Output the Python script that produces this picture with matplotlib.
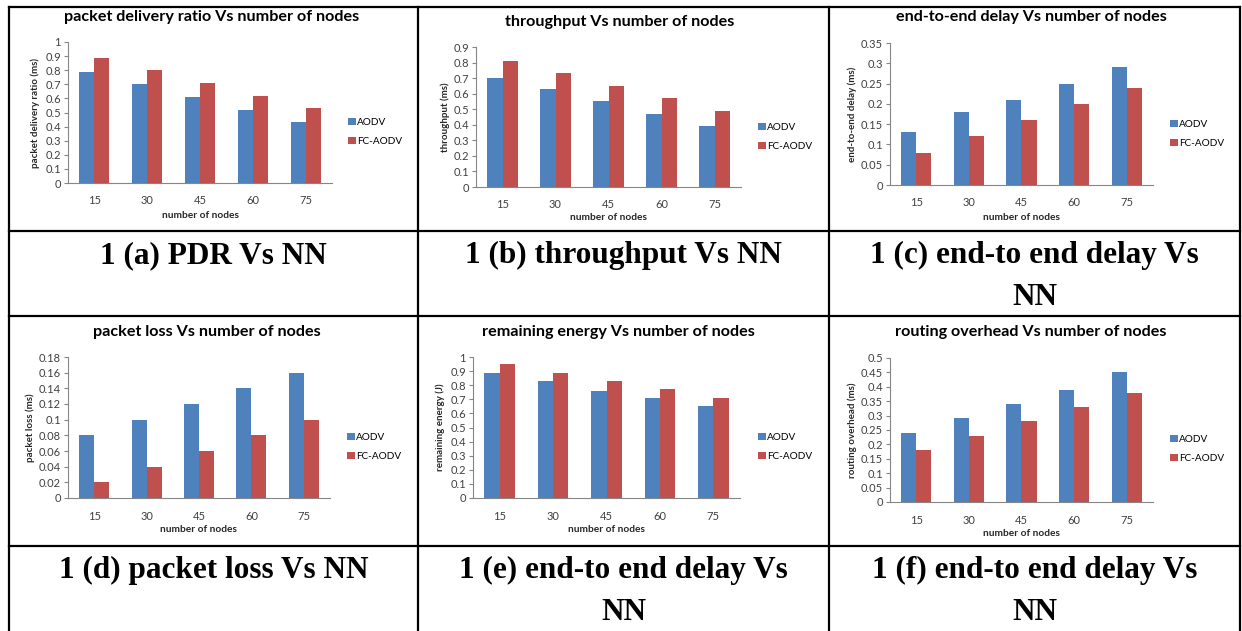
import numpy as np
import matplotlib
matplotlib.use("Agg")
import matplotlib.pyplot as plt
from matplotlib.lines import Line2D

W, H = 1242, 631

categories = ["15", "30", "45", "60", "75"]
series = ["AODV", "FC-AODV"]

titles = [
    "packet delivery ratio Vs number of nodes",
    "throughput Vs number of nodes",
    "end-to-end delay Vs number of nodes",
    "packet loss Vs number of nodes",
    "remaining energy Vs number of nodes",
    "routing overhead Vs number of nodes",
]
ylabels = [
    "packet delivery ratio (ms)",
    "throughput (ms)",
    "end-to-end delay (ms)",
    "packet loss (ms)",
    "remaining energy (J)",
    "routing overhead (ms)",
]
captions = [
    "1 (a) PDR Vs NN",
    "1 (b) throughput Vs NN",
    "1 (c) end-to end delay Vs\nNN",
    "1 (d) packet loss Vs NN",
    "1 (e) end-to end delay Vs\nNN",
    "1 (f) end-to end delay Vs\nNN",
]

aodv = [
    [0.79, 0.70, 0.61, 0.52, 0.43],
    [0.70, 0.63, 0.55, 0.47, 0.39],
    [0.13, 0.18, 0.21, 0.25, 0.29],
    [0.08, 0.10, 0.12, 0.14, 0.16],
    [0.89, 0.83, 0.76, 0.71, 0.65],
    [0.24, 0.29, 0.34, 0.39, 0.45],
]
fc_aodv = [
    [0.89, 0.80, 0.71, 0.62, 0.53],
    [0.81, 0.73, 0.65, 0.57, 0.49],
    [0.08, 0.12, 0.16, 0.20, 0.24],
    [0.02, 0.04, 0.06, 0.08, 0.10],
    [0.95, 0.89, 0.83, 0.77, 0.71],
    [0.18, 0.23, 0.28, 0.33, 0.38],
]
ymax = [1.0, 0.9, 0.35, 0.18, 1.0, 0.5]
ystep = [0.1, 0.1, 0.05, 0.02, 0.1, 0.05]

# layout in pixels
axes_px = [(68, 42, 332, 183), (476, 47, 741, 187), (890, 43, 1153, 185),
           (68, 357, 330, 498), (473, 357, 740, 498), (890, 358, 1153, 502)]
title_px = [(212, 17), (620, 22), (1031, 17), (207, 332), (618, 332), (1031, 332)]
ylab_x = [35, 445, 852, 30, 440, 852]
xlab_y = [215, 218, 217, 530, 530, 534]
legend_px = [(348, 132), (758, 137), (1170, 134), (347, 447), (758, 447), (1170, 449)]
col_cx = [213.5, 623.5, 1034.5]
cap_base = [263, 578]

colors = ["#4F81BD", "#C0504D"]
cfont = "Lato"
gray = "#868686"

fig = plt.figure(figsize=(W / 100, H / 100), dpi=100)
fig.patch.set_facecolor("white")

for i in range(6):
    l, t, r, b = axes_px[i]
    ax = fig.add_axes([l / W, 1 - b / H, (r - l) / W, (b - t) / H])
    x = np.arange(len(categories))
    bw = 1 / 3.5
    ax.bar(x - bw / 2, aodv[i], bw, color=colors[0], label=series[0])
    ax.bar(x + bw / 2, fc_aodv[i], bw, color=colors[1], label=series[1])
    ax.set_xlim(-0.5, len(categories) - 0.5)
    ax.set_ylim(0, ymax[i])
    ticks = np.round(np.arange(0, ymax[i] + ystep[i] / 2, ystep[i]), 4)
    ax.set_yticks(ticks)
    ax.set_yticklabels([f"{v:g}" for v in ticks], fontfamily=cfont, fontsize=8, color="#404040")
    ax.set_xticks(x)
    ax.set_xticklabels(categories, fontfamily=cfont, fontsize=8, color="#404040")
    ax.tick_params(axis="x", length=0, pad=9)
    ax.tick_params(axis="y", length=3, width=0.8, color=gray, pad=2)
    for s in ["top", "right"]:
        ax.spines[s].set_visible(False)
    for s in ["left", "bottom"]:
        ax.spines[s].set_color(gray)
        ax.spines[s].set_linewidth(0.8)

    ax.set_ylabel(ylabels[i], fontfamily=cfont, fontsize=7, fontweight="bold", color="#262626")
    ax.yaxis.set_label_coords((ylab_x[i] - l) / (r - l), 0.5)
    ax.set_xlabel("number of nodes", fontfamily=cfont, fontsize=7.3, fontweight="bold", color="#262626")
    ax.xaxis.set_label_coords(0.5, -(xlab_y[i] - b) / (b - t))
    ax.xaxis.label.set_va("center")
    ax.yaxis.label.set_va("center")

    lx, ly = legend_px[i]
    ax.legend(loc="center left", bbox_to_anchor=(lx / W, 1 - ly / H),
              bbox_transform=fig.transFigure, frameon=False, borderpad=0,
              borderaxespad=0, handlelength=0.75, handleheight=0.75,
              handletextpad=0.15, labelspacing=1.0,
              prop={"family": cfont, "size": 7.2})

    tx, ty = title_px[i]
    fig.text(tx / W, 1 - ty / H, titles[i], ha="center", va="center",
             fontfamily=cfont, fontsize=11.6, fontweight="bold", color="black")

    # caption lines
    cx = col_cx[i % 3]
    base = cap_base[i // 3]
    for k, line in enumerate(captions[i].split("\n")):
        fig.text(cx / W, 1 - (base + 42 * k) / H, line, ha="center", va="baseline",
                 fontfamily="Liberation Serif", fontsize=22.5, fontweight="bold")

# table grid
lw = 1.6
for y in [7, 231, 316, 546]:
    fig.add_artist(Line2D([9 / W, 1240 / W], [1 - y / H, 1 - y / H], color="black", lw=lw))
for xv in [9, 418, 829, 1240]:
    fig.add_artist(Line2D([xv / W, xv / W], [1 - 7 / H, 0], color="black", lw=lw))

fig.savefig("out.png", dpi=100)
